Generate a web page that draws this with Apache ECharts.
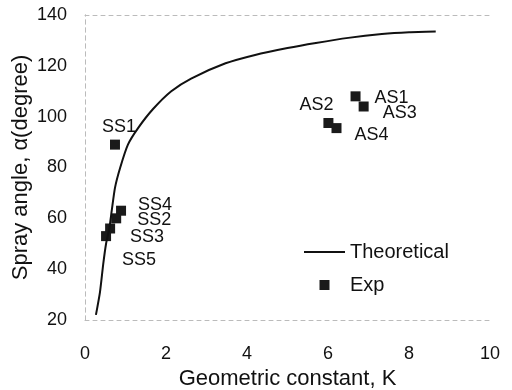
<!DOCTYPE html>
<html>
<head>
<meta charset="utf-8">
<script src="https://cdn.jsdelivr.net/npm/echarts@6/dist/echarts.min.js"></script>
<style>
  html, body { margin: 0; padding: 0; background: #fff; }
  #chart { width: 512px; height: 390px; }
</style>
</head>
<body>
<div id="chart"></div>
<script>
// 理论曲线 (K, 角度)
const theoryK = [0.27, 0.37, 0.45, 0.52, 0.6, 0.66, 0.74, 0.87, 1.06, 1.31, 1.68, 2.13, 2.62, 3.47, 4.2, 5.0, 5.7, 6.5, 7.33, 8.0, 8.66];
const theoryAngle = [22, 31, 42, 50, 56, 63, 72, 80, 89, 95.5, 103, 110, 115, 121, 124.3, 127, 129, 131, 132.5, 133.2, 133.5];

// 实验点
const expNames = ["SS1", "SS4", "SS2", "SS3", "SS5", "AS1", "AS3", "AS2", "AS4"];
const expK = [0.74, 0.89, 0.77, 0.62, 0.52, 6.68, 6.88, 6.01, 6.21];
const expAngle = [89, 63, 60, 56, 53, 108, 104, 97.5, 95.5];

const xTicks = [0, 2, 4, 6, 8, 10];
const yTicks = [20, 40, 60, 80, 100, 120, 140];

// 标签偏移
const labelOffset = {
  SS1: [4, -18], SS4: [34, -6], SS2: [38, 2], SS3: [37, 9], SS5: [33, 24],
  AS1: [36, 2], AS3: [36, 7], AS2: [-12, -18], AS4: [35, 7]
};

const font = "Liberation Sans";
const frame = { show: true, lineStyle: { color: "#bbb", type: [4, 4], width: 1 } };

const myChart = echarts.init(document.getElementById("chart"));
const option = {
  animation: false,
  textStyle: { fontFamily: font },
  grid: { left: 85, right: 22, top: 15, bottom: 70, outerBoundsMode: "none" },
  xAxis: [
    {
      type: "value", min: xTicks[0], max: xTicks[xTicks.length - 1], interval: 2,
      name: "Geometric constant, K", nameLocation: "middle", nameGap: 48,
      nameTextStyle: { fontSize: 22, color: "#111", fontFamily: font },
      axisLine: frame, axisTick: { show: false }, splitLine: { show: false },
      axisLabel: { fontSize: 18, color: "#111", margin: 25, fontFamily: font }
    },
    {
      type: "value", position: "top", min: 0, max: 10,
      axisLine: frame, axisTick: { show: false }, axisLabel: { show: false }, splitLine: { show: false }
    }
  ],
  yAxis: [
    {
      type: "value", min: yTicks[0], max: yTicks[yTicks.length - 1], interval: 20,
      name: "Spray angle, \u03b1(degree)", nameLocation: "middle", nameGap: 53,
      nameMoveOverlap: false,
      nameTextStyle: { fontSize: 22, color: "#111", fontFamily: font },
      axisLine: frame, axisTick: { show: false }, splitLine: { show: false },
      axisLabel: { fontSize: 18, color: "#111", margin: 18, fontFamily: font }
    },
    {
      type: "value", position: "right", min: 20, max: 140,
      axisLine: frame, axisTick: { show: false }, axisLabel: { show: false }, splitLine: { show: false }
    }
  ],
  legend: {
    left: 299, top: 237, orient: "vertical", itemGap: 13,
    itemWidth: 41, itemHeight: 10,
    textStyle: { fontSize: 20, color: "#111", fontFamily: font },
    data: [
      { name: "Theoretical", icon: "path://M0,0L40,0L40,2L0,2Z" },
      { name: "Exp", icon: "path://M0,0L1,0L1,1L0,1Z" }
    ]
  },
  series: [
    {
      name: "Theoretical", type: "line", smooth: 0.2, showSymbol: false,
      lineStyle: { color: "#111", width: 2 }, itemStyle: { color: "#111" },
      data: theoryK.map((k, i) => [k, theoryAngle[i]])
    },
    {
      name: "Exp", type: "scatter", symbol: "rect", symbolSize: 10,
      itemStyle: { color: "#1a1a1a", opacity: 1 },
      data: expNames.map((n, i) => ({
        value: [expK[i], expAngle[i]],
        name: n,
        label: { offset: labelOffset[n] }
      })),
      label: {
        show: true, position: "inside", formatter: "{b}",
        fontSize: 18, color: "#111", fontFamily: font
      }
    }
  ]
};
myChart.setOption(option);
</script>
</body>
</html>
